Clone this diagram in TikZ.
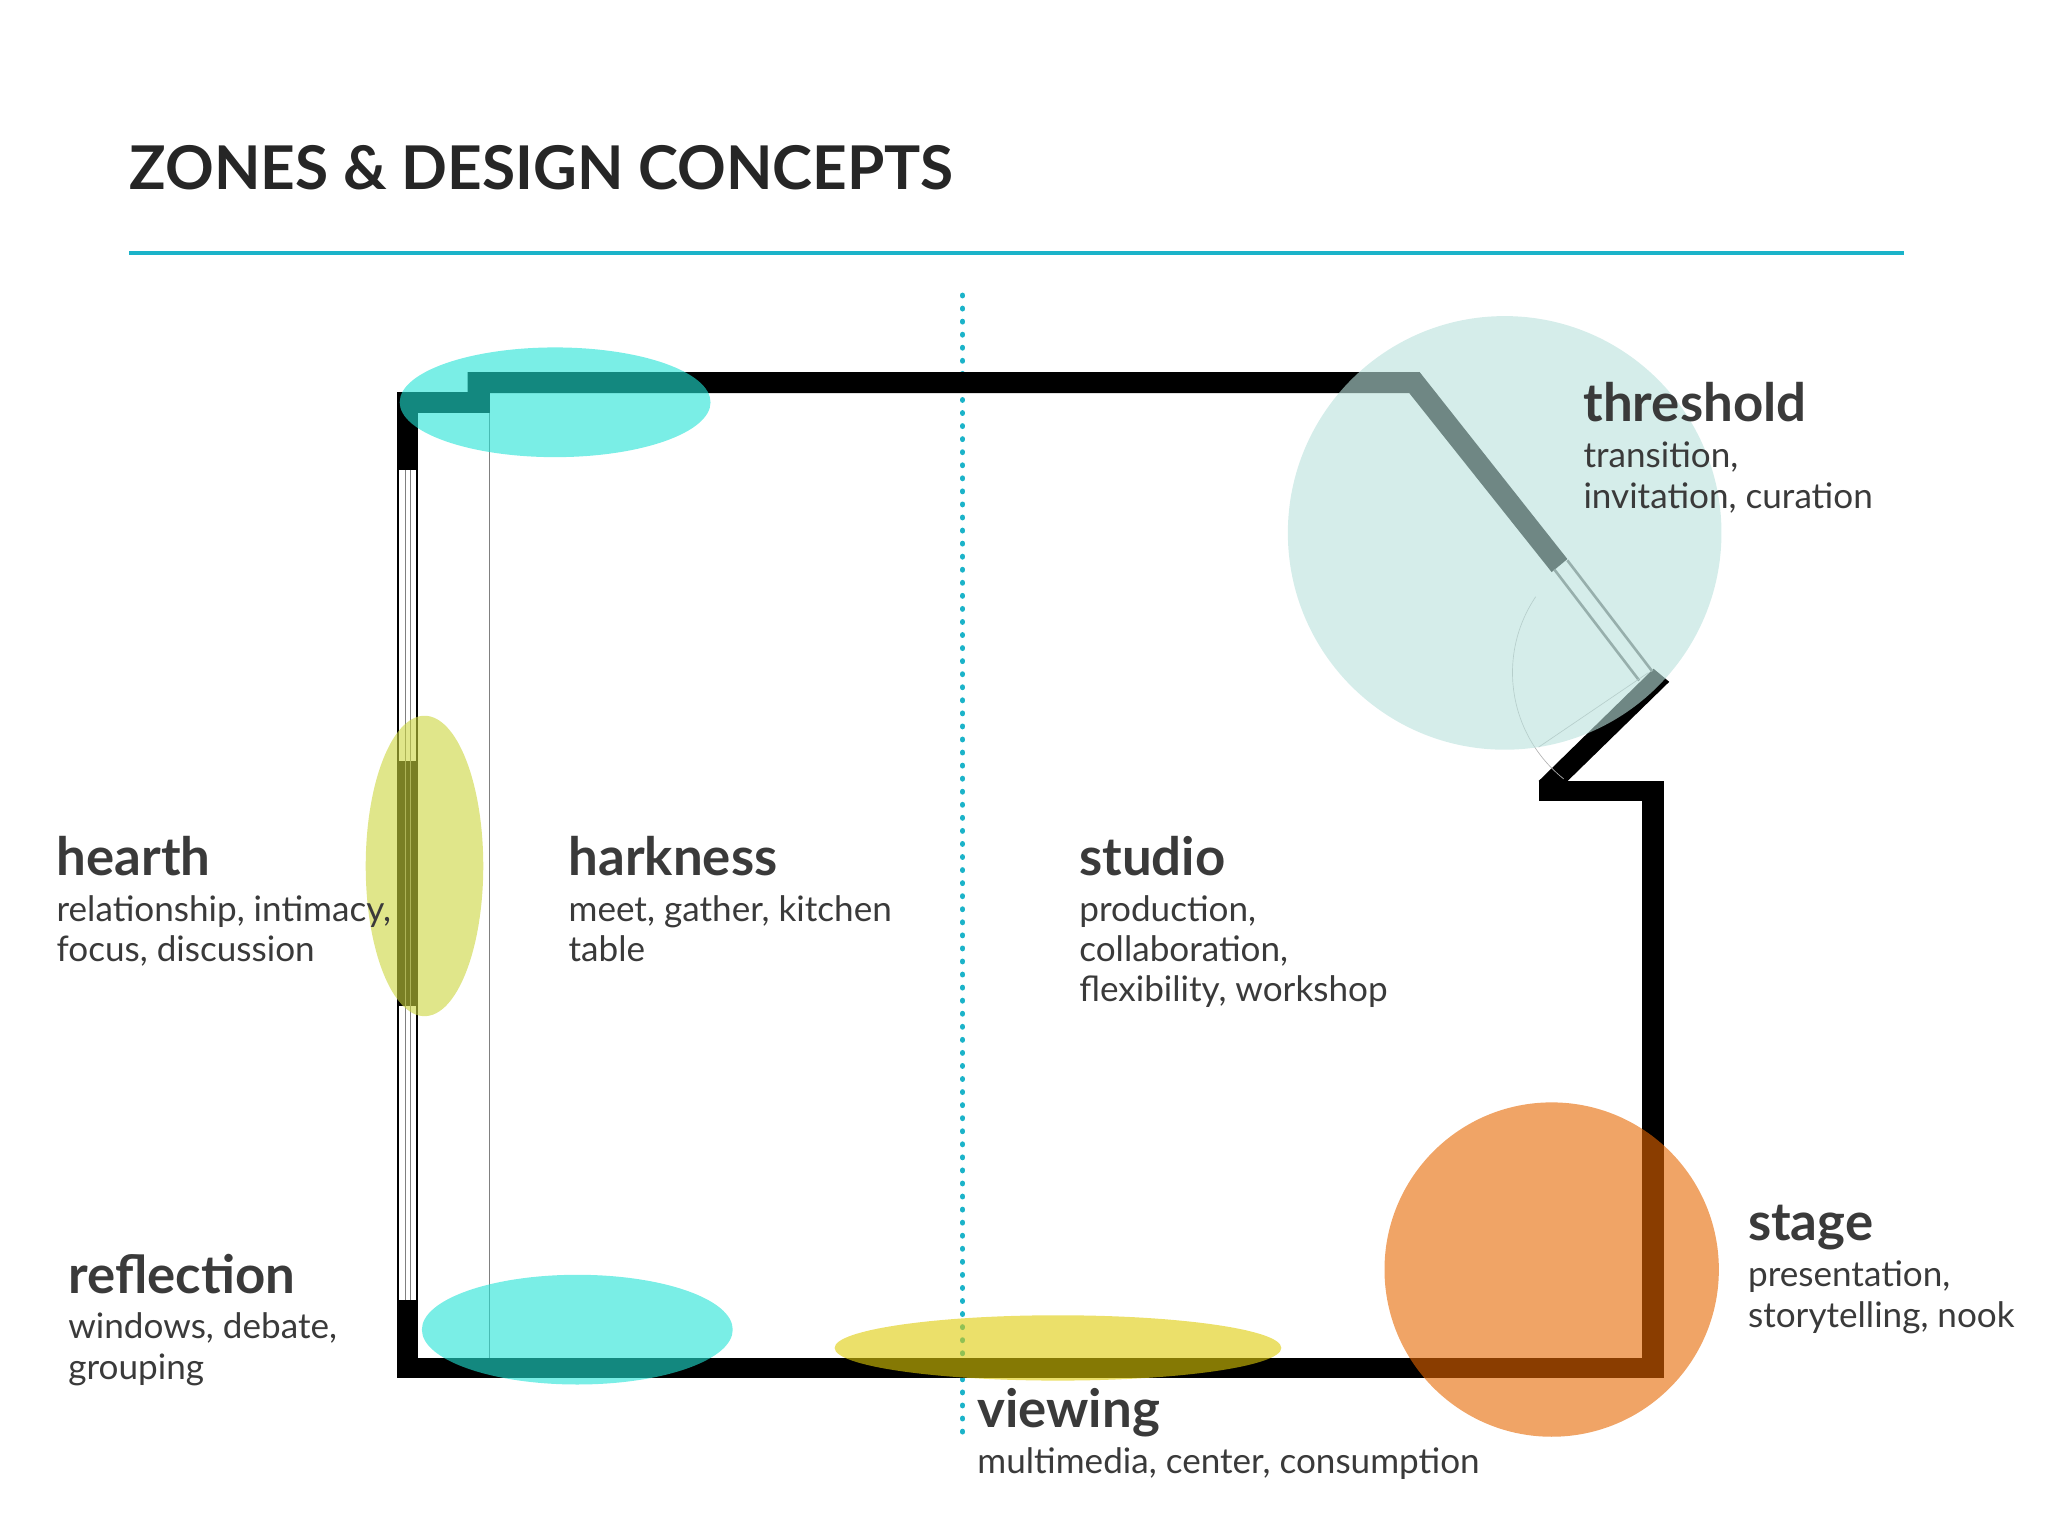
\documentclass[tikz,border=0pt]{standalone}
\usepackage{fontspec}
\setmainfont{Lato}
\definecolor{txt}{HTML}{3A3A3A}
\definecolor{rule}{HTML}{1BB3C9}
\definecolor{cyz}{RGB}{33,227,213}
\definecolor{thz}{RGB}{185,225,220}
\definecolor{hez}{RGB}{203,213,60}
\definecolor{viz}{RGB}{222,203,7}
\definecolor{stz}{RGB}{230,103,0}
\tikzset{
  lbl/.style={anchor=base west,text=txt,font=\bfseries\fontsize{23}{26}\selectfont,inner sep=0},
  sub/.style={anchor=north west,text=txt,font=\fontsize{15.3}{17.6}\selectfont,inner sep=0,align=left},
  zone/.style={opacity=0.6},
  wall/.style={fill=black}
}
\begin{document}
\begin{tikzpicture}[x=0.02cm,y=-0.02cm]
\useasboundingbox (0,0) rectangle (1568,1176);
\node[anchor=base west,text=black!85,inner sep=0,font=\bfseries\fontsize{26.3}{30}\selectfont] (title) at (99,145) {ZONES \& DESIGN CONCEPTS};
\draw[rule,line width=0.06cm] (99,194) -- (1458,194);
\draw[rule,line width=0.08cm,dash pattern=on 0.01cm off 0.19cm,line cap=round] (737,226) -- (737,1100);
% walls
\fill[wall] (358,285) -- (1087,285) -- (1200,428) -- (1188,438) -- (1079,301) -- (358,301) -- cycle;
\fill[wall] (304,300) rectangle (375,316);
\fill[wall] (304,300) rectangle (320,360);
\fill[wall] (304,995) rectangle (320,1055);
\fill[wall] (304,583) rectangle (320,770);
\fill[wall] (304,1040) rectangle (1274,1055);
\fill[wall] (1257,598) rectangle (1274,1055);
\fill[wall] (1178,598) rectangle (1274,613);
\fill[wall] (1178,598) -- (1266,512) -- (1278,522) -- (1195,603) -- cycle;
% window
\draw[black,line width=0.03cm] (305,360) -- (305,995) (319,360) -- (319,995);
\draw[gray,line width=0.01cm] (310,360) -- (310,995) (314,360) -- (314,995);
\draw[gray,line width=0.015cm] (375,316) -- (375,1040);
% door
\draw[gray!80!black,line width=0.04cm] (1190,436) -- (1255,521) (1200,429) -- (1265,514);
\draw[gray!60,line width=0.01cm] (1262,515) -- (1178,572);
\draw[gray!60,line width=0.01cm] (1262,515) ++(128.5:104) arc[start angle=128.5,end angle=214,radius=104];
% zones
\fill[cyz,zone] (425,308) ellipse[x radius=119,y radius=42];
\fill[thz,zone] (1152,408) circle[radius=166];
\fill[hez,zone] (325,663) ellipse[x radius=45,y radius=115];
\fill[cyz,zone] (442,1018) ellipse[x radius=119,y radius=42];
\fill[viz,zone] (810,1032) ellipse[x radius=171,y radius=25];
\fill[stz,zone] (1188,972) circle[radius=128];
% labels
\node[lbl] (hearth) at (43,670) {hearth};
\node[sub] (hearths) at (43,685) {relationship, intimacy,\\focus, discussion};
\node[lbl] (hark) at (435,670) {harkness};
\node[sub] (harks) at (435,685) {meet, gather, kitchen\\table};
\node[lbl] (studio) at (826,670) {studio};
\node[sub] (studios) at (826,685) {production,\\collaboration,\\flexibility, workshop};
\node[lbl] (thr) at (1212,323) {threshold};
\node[sub] (thrs) at (1212,338) {transition,\\invitation, curation};
\node[lbl] (refl) at (52,990) {reflection};
\node[sub] (refls) at (52,1005) {windows, debate,\\grouping};
\node[lbl] (stage) at (1338,950) {stage};
\node[sub] (stages) at (1338,965) {presentation,\\storytelling, nook};
\node[lbl] (view) at (748,1093) {viewing};
\node[sub] (views) at (748,1108) {multimedia, center, consumption};
\end{tikzpicture}
\end{document}
